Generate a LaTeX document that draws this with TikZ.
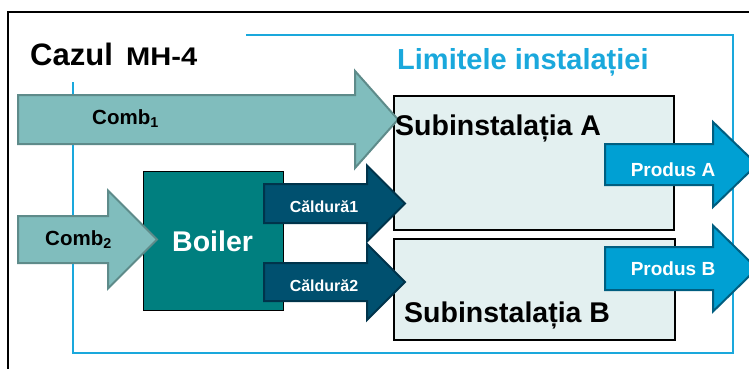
\documentclass[tikz,border=0pt]{standalone}
\usepackage{fontspec}
\setmainfont{Liberation Sans}
\definecolor{combfill}{HTML}{80BDBD}
\definecolor{combline}{HTML}{5E8B8A}
\definecolor{boilerfill}{HTML}{007F7F}
\definecolor{heatfill}{HTML}{00506F}
\definecolor{heatline}{HTML}{00344B}
\definecolor{prodfill}{HTML}{00A0D3}
\definecolor{prodline}{HTML}{005E80}
\definecolor{limitblue}{HTML}{1AA8DC}
\definecolor{subfill}{HTML}{E3F0F0}
% block arrow: style, tail x, head base x, tip x, centre y, half body, half head
\newcommand\blockarrow[7]{%
  \path[#1] (#2,#5-#6) -- (#3,#5-#6) -- (#3,#5-#7) -- (#4,#5)
    -- (#3,#5+#7) -- (#3,#5+#6) -- (#2,#5+#6) -- cycle;}
\begin{document}
\begin{tikzpicture}[x=1pt,y=-1pt,
  lbl/.style={inner sep=0pt},
  subbox/.style={draw=black, line width=1.6pt, fill=subfill, anchor=north west, inner sep=0pt},
  combarrow/.style={fill=combfill, draw=combline, line width=2pt, line join=miter},
  heatarrow/.style={fill=heatfill, draw=heatline, line width=2pt, line join=miter},
  prodarrow/.style={fill=prodfill, draw=prodline, line width=2pt, line join=miter}]
\useasboundingbox (0,0) rectangle (749,369);
\clip (0,0) rectangle (749,369);
% outer frame
\draw[line width=1.4pt] (749,12) -- (8,12) -- (8,369);
% installation boundary
\draw[limitblue, line width=1.6pt] (246,35) -- (733,35) -- (733,353) -- (73,353) -- (73,82);
% titles
\node[lbl, anchor=base west] (case) at (30,66)
  {\fontsize{31}{31}\selectfont\bfseries Cazul};
\node[lbl, anchor=base west] (casecode) at (126,66)
  {\scalebox{1.14}[1]{\fontsize{25.5}{25.5}\selectfont\bfseries MH-4}};
\node[lbl, anchor=base west, text=limitblue] (limits) at (397,70)
  {\fontsize{29}{29}\selectfont\bfseries Limitele instalației};
% sub-installations
\node[subbox, minimum width=280pt, minimum height=134pt] (subA) at (393,95) {};
\node[subbox, minimum width=281pt, minimum height=101pt] (subB) at (393,238) {};
% boiler
\node[draw=black, line width=0.8pt, fill=boilerfill, anchor=north west,
  minimum width=140pt, minimum height=139pt, inner sep=0pt] (boiler) at (143,171) {};
% flows
\blockarrow{combarrow}{18}{355}{398}{119.5}{24.5}{48.5}
\blockarrow{combarrow}{18}{108}{157}{239.5}{23.5}{49}
\blockarrow{heatarrow}{264}{367}{405}{203.5}{19.5}{38}
\blockarrow{heatarrow}{264}{367}{405}{282}{19}{38}
\blockarrow{prodarrow}{605}{713}{757}{164.5}{20.5}{42.5}
\blockarrow{prodarrow}{605}{713}{757}{268.5}{21.5}{43}
% labels
\node[lbl, anchor=base west] (subAt) at (395,135)
  {\fontsize{28.5}{28.5}\selectfont\bfseries Subinstalația A};
\node[lbl, anchor=base west] (subBt) at (404,322)
  {\fontsize{28.5}{28.5}\selectfont\bfseries Subinstalația B};
\node[lbl, anchor=base west, text=white] (boilert) at (172,251)
  {\fontsize{28.5}{28.5}\selectfont\bfseries Boiler};
\node[lbl, anchor=base west] (comb1) at (92,124)
  {\fontsize{20.5}{20.5}\selectfont\bfseries Comb\textsubscript{1}};
\node[lbl, anchor=base west] (comb2) at (45,245)
  {\fontsize{20.5}{20.5}\selectfont\bfseries Comb\textsubscript{2}};
\node[lbl, anchor=base, text=white] (heat1) at (324,212)
  {\fontsize{16}{16}\selectfont\bfseries Căldură1};
\node[lbl, anchor=base, text=white] (heat2) at (324,291)
  {\fontsize{16}{16}\selectfont\bfseries Căldură2};
\node[lbl, anchor=base, text=white] (prodA) at (673,176)
  {\fontsize{19}{19}\selectfont\bfseries Produs A};
\node[lbl, anchor=base, text=white] (prodB) at (673,275)
  {\fontsize{19}{19}\selectfont\bfseries Produs B};
\end{tikzpicture}
\end{document}
